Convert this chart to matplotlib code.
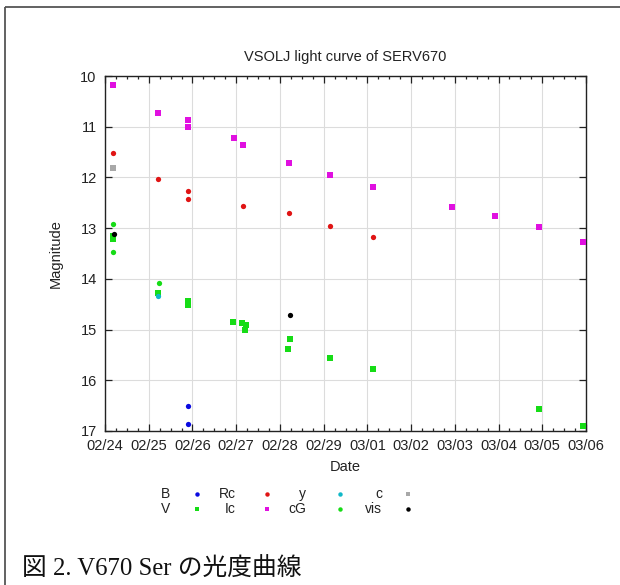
import matplotlib
matplotlib.use("Agg")
import matplotlib.pyplot as plt
from matplotlib.ticker import MultipleLocator, FixedLocator

plt.rcParams["font.family"] = ["Liberation Sans", "DejaVu Sans"]

# observation times in days since 2012-02-24 0h UT, magnitudes per band
B_t = [1.89, 1.89]
B_mag = [16.51, 16.86]

V_t = [0.19, 0.19, 1.21, 1.89, 1.89, 2.93, 3.14, 3.22, 3.21, 4.22, 4.18,
       5.14, 6.13, 9.92, 10.93]
V_mag = [13.16, 13.21, 14.27, 14.44, 14.52, 14.86, 14.88, 14.90, 15.01,
         15.18, 15.39, 15.57, 15.78, 16.56, 16.90]

Rc_t = [0.19, 1.21, 1.89, 1.89, 3.15, 4.20, 5.15, 6.14]
Rc_mag = [11.51, 12.04, 12.27, 12.43, 12.57, 12.70, 12.95, 13.17]

Ic_t = [0.19, 1.22, 1.89, 1.89, 2.94, 3.15, 4.21, 5.15, 6.14, 7.93, 8.92,
        9.92, 10.94]
Ic_mag = [10.17, 10.73, 10.87, 11.00, 11.23, 11.37, 11.72, 11.95, 12.19,
          12.58, 12.77, 12.98, 13.27]

y_t = [1.21]
y_mag = [14.34]

cG_t = [0.19, 0.19, 1.24]
cG_mag = [12.91, 13.47, 14.09]

c_t = [0.19]
c_mag = [11.81]

vis_t = [0.21, 4.24]
vis_mag = [13.11, 14.71]

date_labels = ["02/24", "02/25", "02/26", "02/27", "02/28", "02/29",
               "03/01", "03/02", "03/03", "03/04", "03/05", "03/06"]

# name, times, mags, colour, marker  (legend column order: B V | Rc Ic | y cG | c vis)
series = [
    ("B", B_t, B_mag, "#0a0ae0", "o"),
    ("V", V_t, V_mag, "#16dc16", "s"),
    ("Rc", Rc_t, Rc_mag, "#e01414", "o"),
    ("Ic", Ic_t, Ic_mag, "#e010e0", "s"),
    ("y", y_t, y_mag, "#10b8c8", "o"),
    ("cG", cG_t, cG_mag, "#16dc16", "o"),
    ("c", c_t, c_mag, "#a8a8a8", "s"),
    ("vis", vis_t, vis_mag, "#000000", "o"),
]

W, H = 620, 585
fig = plt.figure(figsize=(W / 100, H / 100), dpi=100)

x0, x1, y0, y1 = 105, 586, 76, 431
ax = fig.add_axes([x0 / W, 1 - y1 / H, (x1 - x0) / W, (y1 - y0) / H])

for name, t, m, col, mk in series:
    ms = 4.2 if mk == "s" else 3.8
    ax.plot(t, m, linestyle="none", marker=mk, ms=ms, color=col,
            markeredgewidth=0, clip_on=False, zorder=3)

ax.set_xlim(0, len(date_labels) - 1)
ax.set_ylim(17, 10)
ax.xaxis.set_major_locator(FixedLocator(range(len(date_labels))))
ax.set_xticklabels(date_labels)
ax.xaxis.set_minor_locator(MultipleLocator(0.25))
ax.yaxis.set_major_locator(MultipleLocator(1))

ax.grid(True, which="major", color="#dcdcdc", linewidth=0.8)
ax.set_axisbelow(True)
ax.tick_params(which="both", direction="in", top=True, right=True,
               labelsize=10.5, colors="#222222")
ax.tick_params(which="major", length=5, width=0.9, pad=6)
ax.tick_params(which="minor", length=2.5, width=0.9)
ax.tick_params(axis="y", which="minor", left=False, right=False)
for sp in ax.spines.values():
    sp.set_color("#222222")
    sp.set_linewidth(1.0)

ax.set_xlabel("Date", fontsize=10.5, color="#222222", va="center")
ax.xaxis.set_label_coords(0.5, (y1 - 467) / (y1 - y0))
ax.set_ylabel("Magnitude", fontsize=10.5, color="#222222", va="center")
ax.yaxis.set_label_coords((56 - x0) / (x1 - x0), 0.5)
ax.text(0.5, (y1 - 57) / (y1 - y0), "VSOLJ light curve of SERV670",
        transform=ax.transAxes, ha="center", va="center", fontsize=10.5,
        color="#222222")

# overlay in pixel units for the key, caption and page frame
ov = fig.add_axes([0, 0, 1, 1], facecolor="none")
ov.set_xlim(0, W)
ov.set_ylim(H, 0)
ov.axis("off")

text_right = [170, 236, 306, 382]
mark_x = [197, 267, 340, 408]
row_y = [494, 509]
for i, (name, t, m, col, mk) in enumerate(series):
    c, r = divmod(i, 2)
    ov.text(text_right[c], row_y[r], name, ha="right", va="center",
            fontsize=10, color="#222222")
    ov.plot([mark_x[c]], [row_y[r]], linestyle="none", marker=mk,
            ms=3.4 if mk == "s" else 3.2, color=col, markeredgewidth=0)

ov.plot([4.5, W], [6.5, 6.5], color="#555555", linewidth=1.3,
        solid_capstyle="butt")
ov.plot([4.5, 4.5], [6.5, H], color="#555555", linewidth=1.3,
        solid_capstyle="butt")

ov.text(22, 569, "図 2. V670 Ser の光度曲線", ha="left", va="center",
        fontsize=17.8, color="#111111",
        family=["Liberation Serif", "Noto Sans CJK JP"])

fig.savefig("out.png", dpi=100)
